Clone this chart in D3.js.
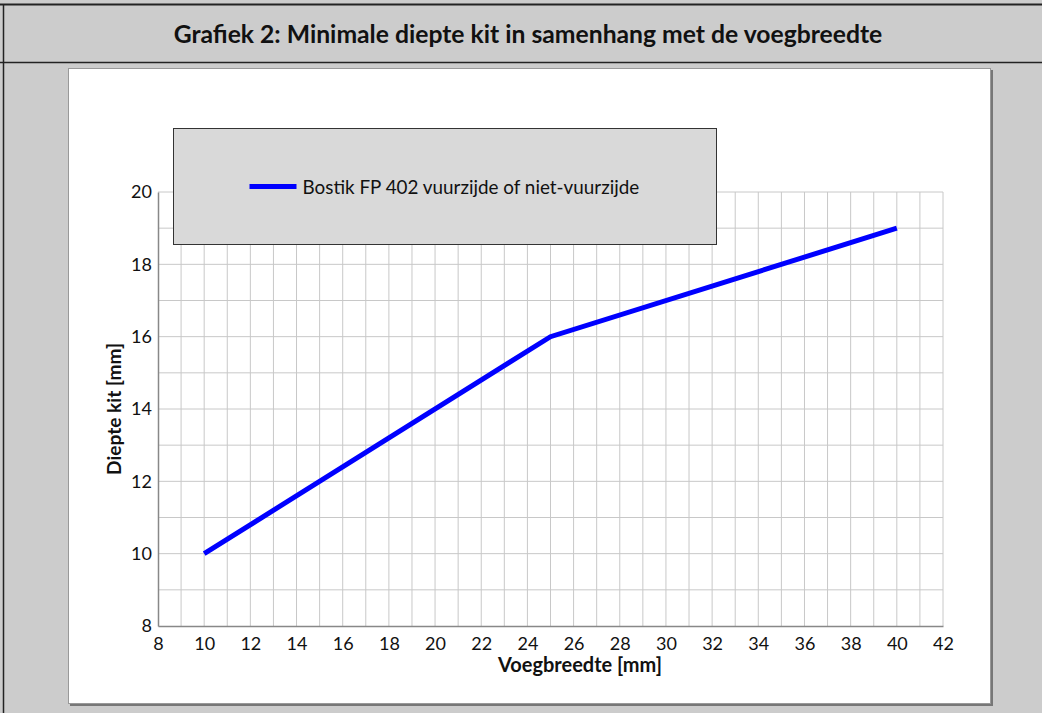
<!DOCTYPE html>
<html>
<head>
<meta charset="utf-8">
<script src="https://cdn.jsdelivr.net/npm/d3@7"></script>
<style>
  body { margin: 0; background: #cccccc; }
  svg { display: block; font-family: Lato, "Open Sans", sans-serif; }
</style>
</head>
<body>
<svg id="chart"></svg>
<script>
// data
let widths = [10, 25, 40];
let depths = [10, 16, 19];
let xTicks = [8, 10, 12, 14, 16, 18, 20, 22, 24, 26, 28, 30, 32, 34, 36, 38, 40, 42];
let yTicks = [8, 10, 12, 14, 16, 18, 20];
let seriesName = "Bostik FP 402 vuurzijde of niet-vuurzijde";
let chartTitle = "Grafiek 2: Minimale diepte kit in samenhang met de voegbreedte";

let width = 1042;
let height = 713;
let margin = { top: 192, left: 158, right: 99, bottom: 87 };
let bodyWidth = width - margin.left - margin.right;
let bodyHeight = height - margin.top - margin.bottom;

let svg = d3.select("#chart").attr("width", width).attr("height", height);

// scale a text's font size so it spans the given width
function fitWidth(sel, target) {
  let w = sel.node().getComputedTextLength();
  let fs = +sel.attr("font-size");
  sel.attr("font-size", (fs * target) / w);
  return sel;
}

// page frame
svg.append("rect").attr("width", width).attr("height", height).attr("fill", "#cccccc");
svg.append("line").attr("x1", 0).attr("x2", width).attr("y1", 4.5).attr("y2", 4.5)
  .attr("stroke", "#222").attr("stroke-width", 2);
svg.append("line").attr("x1", 0).attr("x2", width).attr("y1", 62.5).attr("y2", 62.5)
  .attr("stroke", "#222").attr("stroke-width", 1.5);
svg.append("line").attr("x1", 3.5).attr("x2", 3.5).attr("y1", 4).attr("y2", height)
  .attr("stroke", "#222").attr("stroke-width", 1.5);

let title = svg.append("text")
  .attr("x", 528).attr("y", 43)
  .attr("text-anchor", "middle")
  .attr("font-size", 20).attr("font-weight", "bold").attr("fill", "#111")
  .text(chartTitle);
fitWidth(title, 709);

// white panel with shadow
svg.append("rect").attr("x", 70).attr("y", 70).attr("width", 923).attr("height", 636)
  .attr("fill", "#777");
svg.append("rect").attr("x", 68.5).attr("y", 68.5).attr("width", 922).attr("height", 635)
  .attr("fill", "#fff").attr("stroke", "#999");

let xScale = d3.scaleLinear().domain([8, 42]).range([0, bodyWidth]);
let yScale = d3.scaleLinear().domain([8, 20]).range([bodyHeight, 0]);

let body = svg.append("g").attr("transform", `translate(${margin.left},${margin.top})`);

// grid: one line per unit
body.append("g")
  .selectAll("line")
  .data(d3.range(9, 43))
  .join("line")
  .attr("x1", (d) => xScale(d)).attr("x2", (d) => xScale(d))
  .attr("y1", 0).attr("y2", bodyHeight)
  .attr("stroke", "#c8c8c8");

body.append("g")
  .selectAll("line")
  .data(d3.range(9, 21))
  .join("line")
  .attr("x1", 0).attr("x2", bodyWidth)
  .attr("y1", (d) => yScale(d)).attr("y2", (d) => yScale(d))
  .attr("stroke", "#c8c8c8");

// axes
let xAxis = d3.axisBottom(xScale).tickValues(xTicks).tickSize(0).tickPadding(11);
let yAxis = d3.axisLeft(yScale).tickValues(yTicks).tickSize(0).tickPadding(6);

let gx = body.append("g").attr("transform", `translate(0,${bodyHeight})`).call(xAxis);
let gy = body.append("g").call(yAxis);
[gx, gy].forEach((g) => {
  g.select(".domain").attr("stroke", "#888").attr("stroke-width", 1.5);
  g.selectAll("text").attr("font-size", 18).attr("font-family", "Lato, sans-serif").attr("fill", "#111");
});

let xTitle = body.append("text")
  .attr("x", 580 - margin.left).attr("y", 672 - margin.top)
  .attr("text-anchor", "middle").attr("font-size", 18).attr("font-weight", "bold").attr("fill", "#111")
  .text("Voegbreedte [mm]");
fitWidth(xTitle, 164);

let yTitle = body.append("text")
  .attr("transform", `translate(${121 - margin.left},${409 - margin.top}) rotate(-90)`)
  .attr("text-anchor", "middle").attr("font-size", 18).attr("font-weight", "bold").attr("fill", "#111")
  .text("Diepte kit [mm]");
fitWidth(yTitle, 132);

// series line
let line = d3.line().x((d) => xScale(d[0])).y((d) => yScale(d[1]));
body.append("path")
  .datum(d3.zip(widths, depths))
  .attr("d", line)
  .attr("fill", "none")
  .attr("stroke", "#0000ff")
  .attr("stroke-width", 5);

// legend
let legend = svg.append("g").attr("transform", "translate(173.5,128.5)");
legend.append("rect").attr("width", 543).attr("height", 116)
  .attr("fill", "#d9d9d9").attr("stroke", "#333");
legend.append("line").attr("x1", 76).attr("x2", 123).attr("y1", 58).attr("y2", 58)
  .attr("stroke", "#0000ff").attr("stroke-width", 5);
let legendText = legend.append("text").attr("x", 129).attr("y", 65)
  .attr("font-size", 18).attr("fill", "#111")
  .text(seriesName);
fitWidth(legendText, 337);
</script>
</body>
</html>
